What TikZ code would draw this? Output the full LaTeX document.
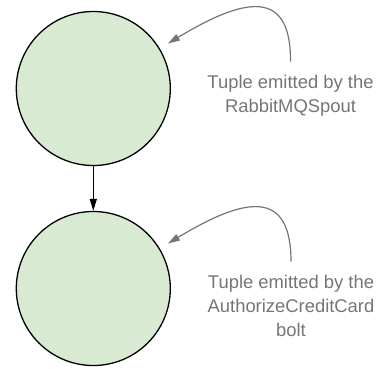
\documentclass[tikz,border=0pt]{standalone}
\usepackage{fontspec}
\setmainfont{Liberation Sans}
\usetikzlibrary{arrows.meta}
\definecolor{verdeclaro}{HTML}{D9EAD3}
\definecolor{cinza}{HTML}{757575}

\begin{document}
\begin{tikzpicture}[x=1pt, y=-1pt,
    bolha/.style={circle, draw=black, line width=1.3pt, fill=verdeclaro, minimum size=154pt, inner sep=0pt},
    nota/.style={text=cinza, align=center, anchor=north, inner sep=0pt, font=\fontsize{18.4}{24}\selectfont},
    fluxo/.style={line width=1.3pt, -{Triangle[length=12pt, width=7pt]}},
    seta/.style={cinza, line width=1.2pt, -{Triangle[length=12pt, width=7pt]}, shorten >=9.5pt}]
    \useasboundingbox (0,0) rectangle (382,368);

    % Bolhas
    \node[bolha] (spout) at (93.3,88.5) {};
    \node[bolha] (autoriza) at (93.3,288.5) {};
    \draw[fluxo] (spout) -- (autoriza);

    % Notas
    \node[nota] (nota1) at (290.5,74.7) {Tuple emitted by the\\RabbitMQSpout};
    \node[nota] (nota2) at (291,274.7) {Tuple emitted by the\\AuthorizeCreditCard\\bolt};

    % Setas curvas
    \coordinate (ini1) at ([yshift=13pt]nota1.north);
    \coordinate (ini2) at ([yshift=13pt]nota2.north);
    \draw[seta] (ini1) .. controls (291,-12) and (245,-3) .. (spout);
    \draw[seta] (ini2) .. controls (291,188) and (245,197) .. (autoriza);
\end{tikzpicture}
\end{document}
